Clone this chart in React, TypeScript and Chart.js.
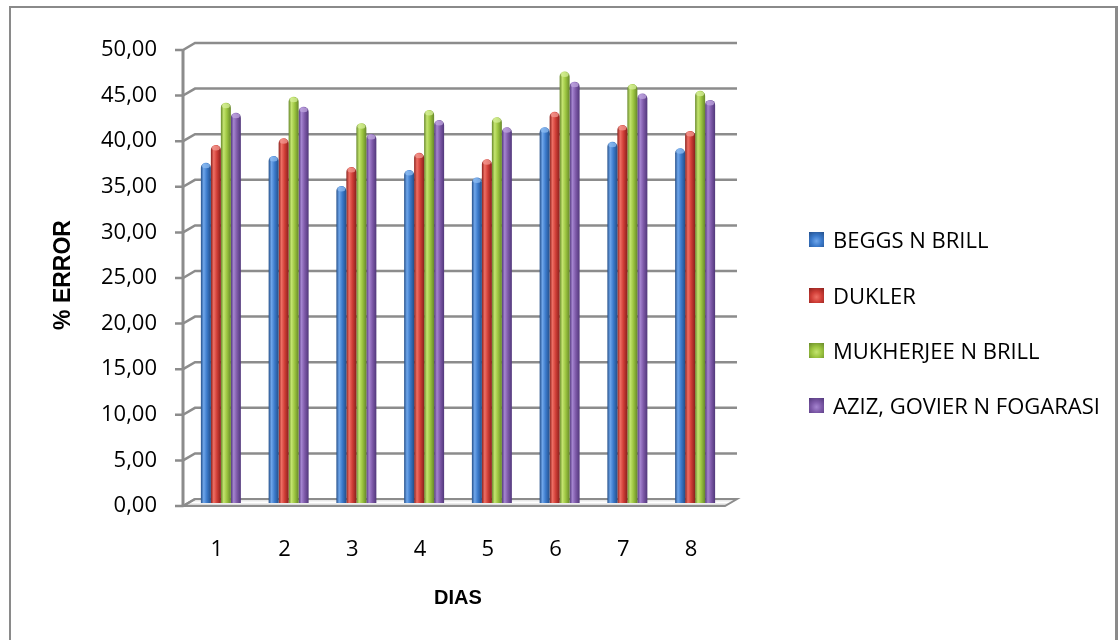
import React, { useEffect, useRef } from "react";
import { Chart, registerables } from "chart.js";

Chart.register(...registerables);

// Days on the x axis
const dias = ["1", "2", "3", "4", "5", "6", "7", "8"];

// % error per correlation and day
const beggsBrill = [37.3, 38.05, 34.75, 36.5, 35.7, 41.2, 39.6, 38.9];
const dukler = [39.25, 40.0, 36.85, 38.4, 37.7, 42.9, 41.45, 40.8];
const mukherjeeBrill = [43.9, 44.55, 41.65, 43.1, 42.3, 47.3, 45.95, 45.2];
const azizGovierFogarasi = [42.8, 43.45, 40.45, 42.0, 41.2, 46.2, 44.9, 44.2];

const seriesNames = [
  "BEGGS N BRILL",
  "DUKLER",
  "MUKHERJEE N BRILL",
  "AZIZ, GOVIER N FOGARASI",
];

// Value axis ticks
const yTicks = [0, 5, 10, 15, 20, 25, 30, 35, 40, 45, 50];

// Cylinder shading: dark edge, highlight, body, dark edge
const palettes = [
  { dark: "#244f8a", light: "#6fa6ea", base: "#3b7acb", cap: "#8dbcf2" },
  { dark: "#8a201c", light: "#ee6f64", base: "#d03e37", cap: "#f39a92" },
  { dark: "#67882a", light: "#c4e470", base: "#9cc540", cap: "#d6ef98" },
  { dark: "#51377a", light: "#a585d0", base: "#7e5aa9", cap: "#bfa6df" },
];

const CAT_PCT = 0.59;
const FONT = "'Open Sans', 'DejaVu Sans', sans-serif";
const GRID = "#8c8c8c";

// Depth offsets of the 3-D frame relative to the plotting plane
const FRONT = { dx: -4, dy: 3 };
const BACK = { dx: 8, dy: -4 };

function barGradient(ctx: any, color: number) {
  const chart = ctx.chart;
  const p = palettes[color];
  const xs = chart.scales?.x;
  if (!chart.chartArea || !xs) return p.base;
  const catW = xs.width / dias.length;
  const groupW = catW * CAT_PCT;
  const bw = groupW / 4;
  const center = xs.getPixelForValue(ctx.dataIndex);
  const left = center - groupW / 2 + ctx.datasetIndex * bw;
  const g = chart.ctx.createLinearGradient(left, 0, left + bw, 0);
  g.addColorStop(0, p.dark);
  g.addColorStop(0.28, p.light);
  g.addColorStop(0.6, p.base);
  g.addColorStop(1, p.dark);
  return g;
}

// Back wall gridlines, floor and the front value axis
const frame3d = {
  id: "frame3d",
  beforeDatasetsDraw(chart: any) {
    const { ctx, chartArea, scales } = chart;
    const ys = scales.y;
    const left = chartArea.left;
    const right = chartArea.right;
    const base = ys.getPixelForValue(0);
    ctx.save();

    // floor
    ctx.beginPath();
    ctx.moveTo(left + FRONT.dx, base + FRONT.dy);
    ctx.lineTo(right + FRONT.dx, base + FRONT.dy);
    ctx.lineTo(right + BACK.dx, base + BACK.dy);
    ctx.lineTo(left + BACK.dx, base + BACK.dy);
    ctx.closePath();
    const fg = ctx.createLinearGradient(0, base + BACK.dy, 0, base + FRONT.dy);
    fg.addColorStop(0, "#d9d9d9");
    fg.addColorStop(0.5, "#ffffff");
    fg.addColorStop(1, "#bdbdbd");
    ctx.fillStyle = fg;
    ctx.fill();
    ctx.strokeStyle = GRID;
    ctx.lineWidth = 2;
    ctx.stroke();

    // gridlines on the back wall, joined to the axis by a short diagonal
    ctx.lineWidth = 2.5;
    ctx.strokeStyle = GRID;
    yTicks.forEach((v) => {
      const y = ys.getPixelForValue(v);
      ctx.beginPath();
      ctx.moveTo(left + FRONT.dx - 8, y + FRONT.dy);
      ctx.lineTo(left + FRONT.dx, y + FRONT.dy);
      ctx.lineTo(left + BACK.dx, y + BACK.dy);
      if (v !== 0) ctx.lineTo(right + BACK.dx, y + BACK.dy);
      ctx.stroke();
    });

    // front vertical axis
    ctx.beginPath();
    ctx.lineWidth = 3;
    ctx.moveTo(left + FRONT.dx, ys.getPixelForValue(50) + FRONT.dy - 1);
    ctx.lineTo(left + FRONT.dx, base + FRONT.dy + 1);
    ctx.stroke();
    ctx.restore();
  },
  afterDatasetsDraw(chart: any) {
    const { ctx } = chart;
    ctx.save();
    chart.data.datasets.forEach((_: any, di: number) => {
      const meta = chart.getDatasetMeta(di);
      meta.data.forEach((bar: any) => {
        const { x, y, width } = bar.getProps(["x", "y", "width"], true);
        ctx.beginPath();
        ctx.ellipse(x, y + 3, width / 2 - 1, 2.5, 0, 0, Math.PI * 2);
        ctx.fillStyle = palettes[di].cap;
        ctx.globalAlpha = 0.75;
        ctx.fill();
      });
    });
    ctx.restore();
  },
};

const legendSwatch = (i: number) => {
  const p = palettes[i];
  return `radial-gradient(circle at 50% 60%, ${p.light} 0%, ${p.base} 45%, ${p.dark} 100%)`;
};

export default function App() {
  const canvasRef = useRef<HTMLCanvasElement | null>(null);

  useEffect(() => {
    if (!canvasRef.current) return;
    const series = [beggsBrill, dukler, mukherjeeBrill, azizGovierFogarasi];
    const chart = new Chart(canvasRef.current, {
      type: "bar",
      data: {
        labels: dias,
        datasets: series.map((values, i) => ({
          label: seriesNames[i],
          data: values,
          backgroundColor: (ctx: any) => barGradient(ctx, i),
          borderWidth: 0,
          borderRadius: { topLeft: 5, topRight: 5, bottomLeft: 0, bottomRight: 0 },
          borderSkipped: "bottom",
          categoryPercentage: CAT_PCT,
          barPercentage: 1.0,
        })),
      },
      plugins: [frame3d],
      options: {
        animation: false,
        responsive: false,
        maintainAspectRatio: false,
        layout: { padding: { left: 0, top: 47, right: 391, bottom: 0 } },
        plugins: {
          legend: { display: false },
          tooltip: { enabled: false },
        },
        scales: {
          x: {
            grid: { display: false, drawTicks: false },
            border: { display: false },
            afterFit: (s: any) => {
              s.height = 137;
            },
            ticks: {
              color: "#000",
              font: { family: FONT, size: 22 },
              padding: 34,
              labelOffset: -4,
              maxRotation: 0,
            },
            title: {
              display: true,
              text: "DIAS",
              color: "#000",
              font: { family: "'Liberation Sans', Arial, sans-serif", size: 20, weight: "bold" },
              padding: { top: 0, bottom: 30 },
            },
          },
          y: {
            min: 0,
            max: 50,
            grid: { display: false, drawTicks: false },
            border: { display: false },
            afterFit: (s: any) => {
              s.width = 187;
            },
            afterBuildTicks: (s: any) => {
              s.ticks = yTicks.map((v) => ({ value: v }));
            },
            ticks: {
              color: "#000",
              font: { family: FONT, size: 22 },
              padding: 30,
              labelOffset: 3,
              callback: (v: any) => Number(v).toFixed(2).replace(".", ","),
            },
            title: {
              display: true,
              text: "% ERROR",
              color: "#000",
              font: { family: "'Liberation Sans', Arial, sans-serif", size: 23, weight: "bold" },
              padding: { top: 50, bottom: 0 },
            },
          },
        },
      },
    });
    return () => chart.destroy();
  }, []);

  const legendY = [239, 295, 350, 405];

  return (
    <div
      style={{
        position: "fixed",
        left: 0,
        top: 0,
        width: 1120,
        height: 640,
        background: "#fff",
        overflow: "hidden",
      }}
    >
      <div
        style={{
          position: "absolute",
          left: 9,
          top: 6,
          width: 1109,
          height: 660,
          border: "2px solid #8a8a8a",
          borderRightWidth: 3,
          boxSizing: "border-box",
        }}
      />
      <canvas
        ref={canvasRef}
        width={1120}
        height={640}
        style={{ position: "absolute", left: 0, top: 0, width: 1120, height: 640 }}
      />
      {seriesNames.map((name, i) => (
        <div
          key={name}
          style={{
            position: "absolute",
            left: 809,
            top: legendY[i] - 13,
            height: 26,
            display: "flex",
            alignItems: "center",
            fontFamily: FONT,
            fontSize: 22,
            lineHeight: "26px",
            color: "#000",
            whiteSpace: "nowrap",
          }}
        >
          <span
            style={{
              display: "inline-block",
              width: 15,
              height: 15,
              marginRight: 9,
              background: legendSwatch(i),
            }}
          />
          {name}
        </div>
      ))}
    </div>
  );
}
